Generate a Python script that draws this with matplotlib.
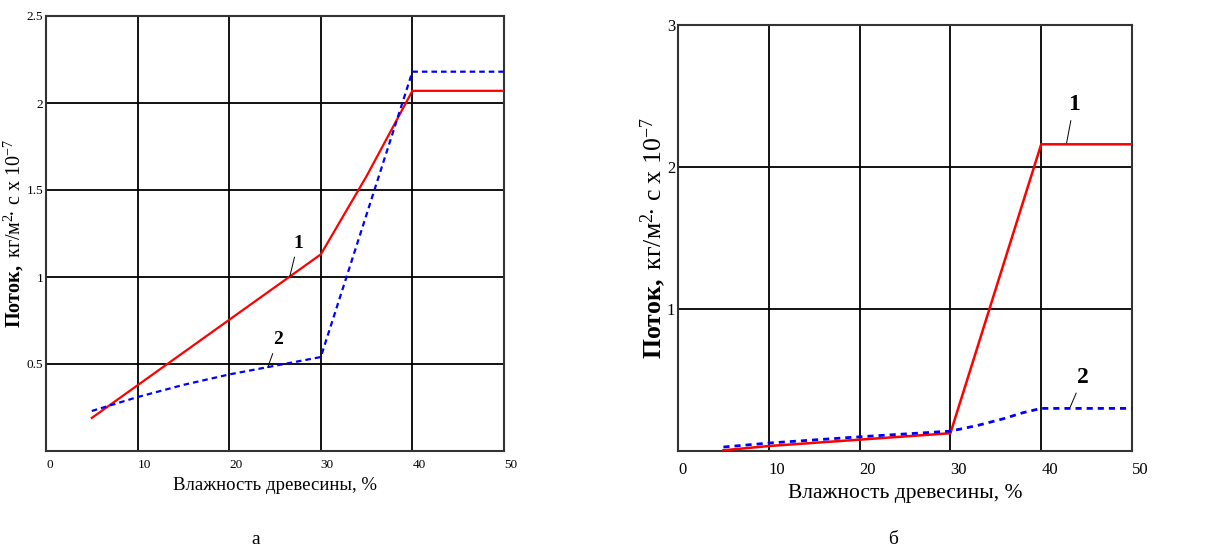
import matplotlib
matplotlib.use("Agg")
import matplotlib.pyplot as plt

plt.rcParams['font.family'] = ['Liberation Serif', 'DejaVu Serif']
plt.rcParams['mathtext.fontset'] = 'custom'
plt.rcParams['mathtext.rm'] = 'Liberation Serif'
plt.rcParams['mathtext.it'] = 'Liberation Serif:italic'
plt.rcParams['mathtext.bf'] = 'Liberation Serif:bold'

# ---- data, panel a ----
a_x1 = [5, 30, 35, 40, 50]
a_y1 = [0.19, 1.13, 1.58, 2.07, 2.07]
a_x2 = [5, 10, 15, 20, 25, 30, 40, 50]
a_y2 = [0.23, 0.31, 0.38, 0.44, 0.49, 0.54, 2.18, 2.18]

# ---- data, panel б ----
b_x1 = [5, 10, 20, 30, 40, 50]
b_y1 = [0.005, 0.035, 0.08, 0.125, 2.16, 2.16]
b_x2 = [5, 10, 20, 30, 33, 36, 38, 40, 50]
b_y2 = [0.028, 0.056, 0.10, 0.14, 0.18, 0.23, 0.27, 0.30, 0.30]

x_ticks = [0, 10, 20, 30, 40, 50]
a_yticks = [0.5, 1, 1.5, 2, 2.5]
a_yticklabels = ['0.5', '1', '1.5', '2', '2.5']
b_yticks = [1, 2, 3]
b_yticklabels = ['1', '2', '3']

xlabel = 'Влажность древесины, %'
ylabel = r'$\mathbf{Поток,}$ кг/м$^{2}\!$· с х 10$^{-7}$'

fig = plt.figure(figsize=(12.2, 5.49), dpi=100)
axa = fig.add_axes([46/1220, 1-451/549, 458/1220, 435/549])
axb = fig.add_axes([678/1220, 1-451/549, 454/1220, 426/549])

red = '#ff0000'
blue = '#0000ff'

def style(ax, yticks, ylabels, ymax, fs_tick, fs_xlab, fs_ylab, xpad, xlpad, ylpad):
    ax.set_xlim(0, 50)
    ax.set_ylim(0, ymax)
    ax.set_xticks(x_ticks)
    ax.set_xticklabels([str(t) for t in x_ticks], fontsize=fs_tick, ha='left')
    ax.set_yticks(yticks)
    ax.set_yticklabels(ylabels, fontsize=fs_tick)
    ax.tick_params(axis='x', length=0, pad=xpad)
    ax.tick_params(axis='y', length=0, pad=2)
    ax.grid(True, color='black', linewidth=1.3)
    ax.set_axisbelow(True)
    for s in ax.spines.values():
        s.set_linewidth(1.5)
        s.set_color('#333333')
    ax.set_xlabel(xlabel, fontsize=fs_xlab, labelpad=xlpad)
    ax.set_ylabel(ylabel, fontsize=fs_ylab, labelpad=ylpad)

style(axa, a_yticks, a_yticklabels, 2.5, 9.5, 13.5, 14.5, 6, 4, 0.5)
style(axb, b_yticks, b_yticklabels, 3, 12, 15.5, 18.5, 8, 4, -1)

axa.plot(a_x1, a_y1, color=red, lw=1.6, zorder=3)
axa.plot(a_x2, a_y2, color=blue, lw=1.6, ls=(0, (2.5, 1.8)), zorder=3)
axb.plot(b_x1, b_y1, color=red, lw=1.8, zorder=3)
axb.plot(b_x2, b_y2, color=blue, lw=2.0, ls=(0, (2.2, 1.8)), zorder=4)

arrow = dict(arrowstyle='-', lw=0.7, color='black', shrinkA=2, shrinkB=0)
# curve labels
axa.annotate('1', xy=(26.6, 1.0), xytext=(27.5, 1.195), fontsize=14, fontweight='bold',
             ha='center', va='center', arrowprops=arrow)
axa.annotate('2', xy=(24.2, 0.48), xytext=(25.3, 0.64), fontsize=14, fontweight='bold',
             ha='center', va='center', arrowprops=arrow)
axb.annotate('1', xy=(42.8, 2.17), xytext=(43.6, 2.44), fontsize=17, fontweight='bold',
             ha='center', va='center', arrowprops=arrow)
axb.annotate('2', xy=(43.2, 0.31), xytext=(44.6, 0.52), fontsize=17, fontweight='bold',
             ha='center', va='center', arrowprops=arrow)

fig.text(256/1220, 1-540/549, 'а', fontsize=14, ha='center', va='center')
fig.text(893/1220, 1-540/549, 'б', fontsize=14, ha='center', va='center')

fig.savefig('out.png', dpi=100, facecolor='white')
